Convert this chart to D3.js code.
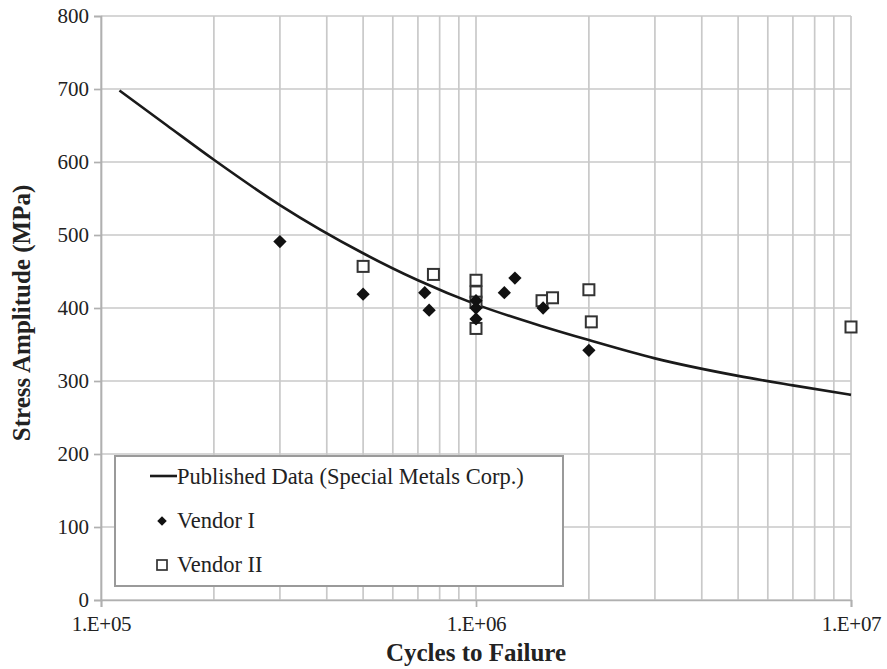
<!DOCTYPE html>
<html>
<head>
<meta charset="utf-8">
<script src="https://cdn.jsdelivr.net/npm/d3@7"></script>
<style>
  html, body { margin: 0; padding: 0; background: #fff; }
  svg { display: block; }
  text { font-family: "Liberation Serif", "Times New Roman", serif; fill: #222; }
</style>
</head>
<body>
<svg id="chart" width="887" height="669"></svg>
<script>
// Published S-N curve (Special Metals Corp.)
const curveCycles = [1.12e5, 1.5e5, 2e5, 3e5, 5e5, 7e5, 1e6, 1.5e6, 2e6, 3e6, 5e6, 7e6, 1e7];
const curveStress = [698, 650, 603, 541, 475, 438, 405, 375, 356, 331, 307, 294, 281];

// Vendor I test results
const vendor1Cycles = [3e5, 5e5, 7.3e5, 7.5e5, 1e6, 1e6, 1e6, 1.19e6, 1.27e6, 1.51e6, 2e6];
const vendor1Stress = [491, 419, 421, 397, 410, 400, 385, 421, 441, 400, 342];

// Vendor II test results
const vendor2Cycles = [5e5, 7.7e5, 1e6, 1e6, 1e6, 1e6, 1.5e6, 1.6e6, 2e6, 2.03e6, 1e7];
const vendor2Stress = [457, 446, 438, 422, 408, 372, 410, 414, 425, 381, 374];

const yTicks = [0, 100, 200, 300, 400, 500, 600, 700, 800];
const xMajorTicks = [1e5, 1e6, 1e7];
const xTickLabels = ["1.E+05", "1.E+06", "1.E+07"];

const legendLabels = ["Published Data (Special Metals Corp.)", "Vendor I", "Vendor II"];

const margin = { left: 101, top: 16, right: 36, bottom: 69 };
const W = 887, H = 669;
const pw = W - margin.left - margin.right;
const ph = H - margin.top - margin.bottom;

const svg = d3.select("#chart");
const g = svg.append("g").attr("transform", `translate(${margin.left},${margin.top})`);

const x = d3.scaleLog().domain([1e5, 1e7]).range([0, pw]);
const y = d3.scaleLinear().domain([0, 800]).range([ph, 0]);

const gridColor = "#c9c9c9";
const axisColor = "#b0b0b0";

// log gridlines: 1..10 within each decade
const xGrid = [];
[1e5, 1e6].forEach(d => { for (let k = 1; k <= 10; k++) xGrid.push(d * k); });
const xGridUnique = Array.from(new Set(xGrid));

g.append("g").selectAll("line").data(xGridUnique).join("line")
  .attr("x1", d => x(d)).attr("x2", d => x(d))
  .attr("y1", 0).attr("y2", ph)
  .attr("stroke", gridColor).attr("stroke-width", 1.7);

g.append("g").selectAll("line").data(yTicks).join("line")
  .attr("x1", 0).attr("x2", pw)
  .attr("y1", d => y(d)).attr("y2", d => y(d))
  .attr("stroke", gridColor).attr("stroke-width", 1.7);

// Y axis
const yAxis = d3.axisLeft(y).tickValues(yTicks).tickSize(7).tickPadding(5);
const yg = g.append("g").call(yAxis);
yg.select(".domain").attr("stroke", axisColor).attr("stroke-width", 1.7);
yg.selectAll(".tick line").attr("stroke", axisColor).attr("stroke-width", 1.7);
yg.selectAll(".tick text").style("font-family", "Liberation Serif").style("font-size", "21px").attr("fill", "#2a2a2a");

// X axis
const xAxis = d3.axisBottom(x).tickValues(xMajorTicks)
  .tickFormat((d, i) => xTickLabels[i]).tickSize(7).tickPadding(9);
const xg = g.append("g").attr("transform", `translate(0,${ph})`).call(xAxis);
xg.select(".domain").attr("stroke", axisColor).attr("stroke-width", 1.7);
xg.selectAll(".tick line").attr("stroke", axisColor).attr("stroke-width", 1.7);
xg.selectAll(".tick text").style("font-family", "Liberation Serif").style("font-size", "21px")
  .attr("fill", "#2a2a2a").attr("letter-spacing", "-0.3px");

// Axis titles
svg.append("text")
  .attr("x", margin.left + x(1e6)).attr("y", 661)
  .attr("text-anchor", "middle")
  .style("font-size", "25px").style("font-weight", "bold")
  .text("Cycles to Failure");

svg.append("text")
  .attr("transform", `translate(30,313) rotate(-90)`)
  .attr("text-anchor", "middle")
  .style("font-size", "25px").style("font-weight", "bold")
  .text("Stress Amplitude (MPa)");

// Published curve
const curveData = curveCycles.map((c, i) => [c, curveStress[i]]);
g.append("path").datum(curveData)
  .attr("fill", "none").attr("stroke", "#1a1a1a").attr("stroke-width", 2.6)
  .attr("d", d3.line().x(d => x(d[0])).y(d => y(d[1])).curve(d3.curveMonotoneX));

// Vendor II squares
const sq = 11;
g.append("g").selectAll("rect").data(vendor2Cycles.map((c, i) => [c, vendor2Stress[i]])).join("rect")
  .attr("x", d => x(d[0]) - sq / 2).attr("y", d => y(d[1]) - sq / 2)
  .attr("width", sq).attr("height", sq)
  .attr("fill", "#fff").attr("stroke", "#333").attr("stroke-width", 2);

// Vendor I diamonds
const diamond = d3.symbol().type(d3.symbolSquare).size(88);
g.append("g").selectAll("path").data(vendor1Cycles.map((c, i) => [c, vendor1Stress[i]])).join("path")
  .attr("d", diamond)
  .attr("transform", d => `translate(${x(d[0])},${y(d[1])}) rotate(45)`)
  .attr("fill", "#111");

// Legend
const lg = svg.append("g").attr("transform", "translate(115,456)");
lg.append("rect").attr("width", 448).attr("height", 130)
  .attr("fill", "#fff").attr("stroke", "#9a9a9a").attr("stroke-width", 2);

lg.append("line").attr("x1", 35).attr("x2", 62).attr("y1", 20).attr("y2", 20)
  .attr("stroke", "#1a1a1a").attr("stroke-width", 2.6);
lg.append("path").attr("d", d3.symbol().type(d3.symbolSquare).size(45))
  .attr("transform", "translate(47,65) rotate(45)").attr("fill", "#111");
lg.append("rect").attr("x", 42).attr("y", 104).attr("width", 10).attr("height", 10)
  .attr("fill", "#fff").attr("stroke", "#333").attr("stroke-width", 1.7);

lg.selectAll("text.leg").data(legendLabels).join("text")
  .attr("class", "leg")
  .attr("x", 62).attr("y", (d, i) => 28 + i * 44)
  .style("font-size", "22.5px").attr("fill", "#2a2a2a")
  .text(d => d);
</script>
</body>
</html>
